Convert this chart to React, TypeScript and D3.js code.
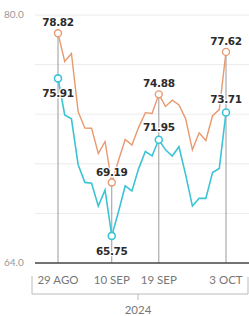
import React from 'react';
import * as d3 from 'd3';

// Trading days, 29 Aug – 3 Oct 2024
const dates = [
  '2024-08-29', '2024-08-30', '2024-09-02', '2024-09-03', '2024-09-04', '2024-09-05',
  '2024-09-06', '2024-09-09', '2024-09-10', '2024-09-11', '2024-09-12', '2024-09-13',
  '2024-09-16', '2024-09-17', '2024-09-18', '2024-09-19', '2024-09-20', '2024-09-23',
  '2024-09-24', '2024-09-25', '2024-09-26', '2024-09-27', '2024-09-30', '2024-10-01',
  '2024-10-02', '2024-10-03',
];

// Brent (orange)
const brent = [
  78.82, 77.0, 77.52, 73.75, 72.7, 72.69, 71.06, 71.84, 69.19, 70.61, 71.97, 71.61,
  72.75, 73.7, 73.65, 74.88, 74.1, 74.5, 74.2, 73.3, 71.3, 72.4, 71.9, 73.5, 73.9, 77.62,
];

// WTI (cyan)
const wti = [
  75.91, 73.55, 73.3, 70.34, 69.2, 69.15, 67.67, 68.71, 65.75, 67.31, 68.97, 68.65,
  70.09, 71.19, 70.91, 71.95, 71.3, 70.9, 71.5, 69.69, 67.67, 68.18, 68.17, 69.83, 70.1, 73.71,
];

const tickDates = ['2024-08-29', '2024-09-10', '2024-09-19', '2024-10-03'];
const tickLabels = ['29 AGO', '10 SEP', '19 SEP', '3 OCT'];
const yearLabel = '2024';
const yLabels = [80, 64];

// which side of the marker each value label sits on (WTI)
const wtiLabelBelow = [true, true, false, false];

const W = 249;
const H = 316;
const ORANGE = '#e8996f';
const CYAN = '#3cc4d6';

const App: React.FC = () => {
  const x = d3.scalePoint<string>().domain(dates).range([58, 226]);
  const y = d3.scaleLinear().domain([64, 80]).range([263, 15]);

  const line = d3
    .line<number>()
    .x((_, i) => x(dates[i]) as number)
    .y((d) => y(d));

  const gridVals = d3.range(1, 6).map((k) => 64 + k * 3.2);
  const idx = tickDates.map((d) => dates.indexOf(d));
  const mid = 138;

  const labelStyle: React.CSSProperties = {
    fontFamily: 'DejaVu Sans, sans-serif',
    fontWeight: 'bold',
    fontSize: 10.5,
    fill: '#2b2b2b',
    stroke: '#fff',
    strokeWidth: 2.5,
    paintOrder: 'stroke',
    letterSpacing: -0.3,
  };

  return (
    <svg width={W} height={H} style={{ position: 'absolute', left: 0, top: 0, background: '#fff' }}>
      {/* horizontal grid */}
      {gridVals.map((v) => (
        <line key={v} x1={35} x2={W} y1={y(v)} y2={y(v)} stroke="#ececec" strokeWidth={1} />
      ))}
      {/* y labels */}
      {yLabels.map((v) => (
        <text
          key={v}
          x={4}
          y={y(v) + 3}
          style={{ fontFamily: 'Lato, sans-serif', fontSize: 10, fill: '#999' }}
        >
          {v.toFixed(1)}
        </text>
      ))}
      {/* vertical date guides */}
      {idx.map((i) => (
        <line
          key={i}
          x1={x(dates[i])}
          x2={x(dates[i])}
          y1={y(brent[i])}
          y2={y(64)}
          stroke="#9a9a9a"
          strokeWidth={1}
        />
      ))}
      {/* baseline */}
      <line x1={35} x2={W} y1={y(64)} y2={y(64)} stroke="#444" strokeWidth={1.5} />
      {/* x tick labels */}
      {idx.map((i, k) => (
        <text
          key={i}
          x={x(dates[i])}
          y={284}
          textAnchor="middle"
          style={{ fontFamily: 'Lato, sans-serif', fontSize: 11.5, fill: '#777' }}
        >
          {tickLabels[k]}
        </text>
      ))}
      {/* year bracket */}
      <path
        d={`M32,276 V294 H248 V277 M${mid},294 V300`}
        fill="none"
        stroke="#bbb"
        strokeWidth={1}
      />
      <text
        x={mid}
        y={314}
        textAnchor="middle"
        style={{ fontFamily: 'Lato, sans-serif', fontSize: 11.5, fill: '#777' }}
      >
        {yearLabel}
      </text>
      {/* series */}
      <path d={line(brent) ?? ''} fill="none" stroke={ORANGE} strokeWidth={1.4} />
      <path d={line(wti) ?? ''} fill="none" stroke={CYAN} strokeWidth={1.6} />
      {/* markers */}
      {idx.map((i) => (
        <g key={i}>
          <circle cx={x(dates[i])} cy={y(brent[i])} r={3.5} fill="#fff" stroke={ORANGE} strokeWidth={1.4} />
          <circle cx={x(dates[i])} cy={y(wti[i])} r={3.5} fill="#fff" stroke={CYAN} strokeWidth={1.6} />
        </g>
      ))}
      {/* value labels */}
      {idx.map((i, k) => (
        <g key={i}>
          <text x={x(dates[i])} y={y(brent[i]) - 7} textAnchor="middle" style={labelStyle}>
            {brent[i].toFixed(2)}
          </text>
          <text
            x={x(dates[i])}
            y={wtiLabelBelow[k] ? y(wti[i]) + 19 : y(wti[i]) - 9}
            textAnchor="middle"
            style={labelStyle}
          >
            {wti[i].toFixed(2)}
          </text>
        </g>
      ))}
    </svg>
  );
};

export default App;
